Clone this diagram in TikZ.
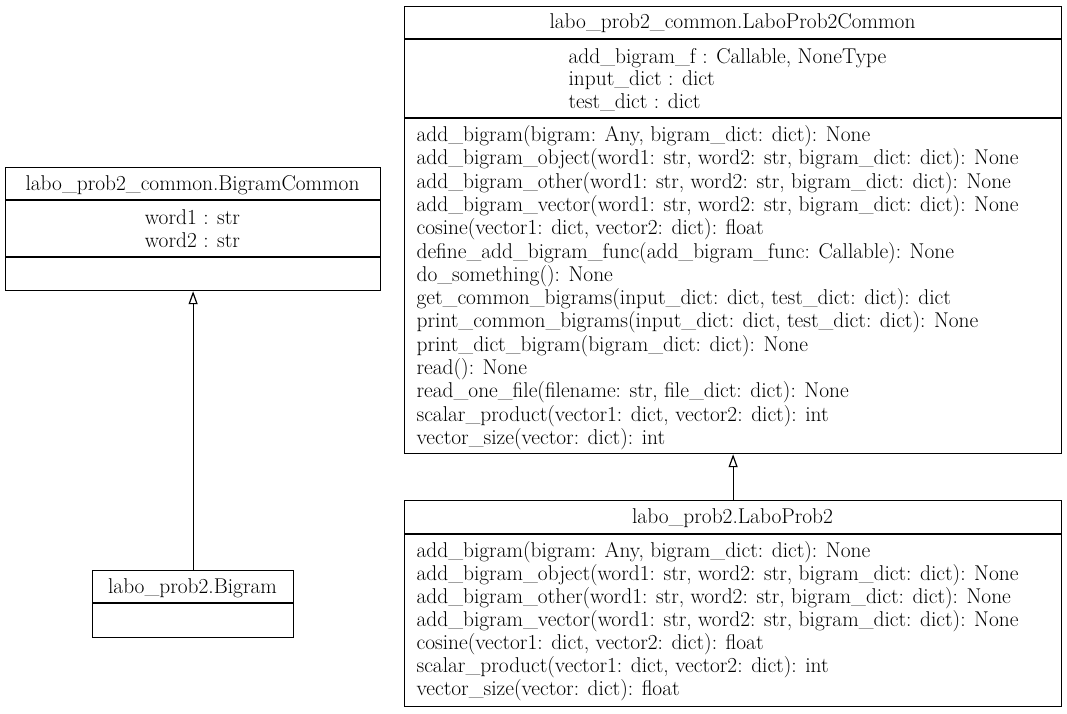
\documentclass[tikz,border=0pt]{standalone}
\usetikzlibrary{arrows.meta}
\newcommand\myfs{\fontsize{21.4}{24}\selectfont}
\begin{document}
\begin{tikzpicture}[x=1pt,y=-1pt, line width=1.2pt,
  box/.style={draw, rectangle, inner sep=0pt, anchor=north west},
  txt/.style={inner sep=0pt, font=\myfs, anchor=base west},
  ctxt/.style={inner sep=0pt, font=\myfs, anchor=base},
  inh/.style={-{Triangle[open,length=13pt,width=9pt]}}]
\useasboundingbox (0,0) rectangle (1067,713);

% BigramCommon
\node[box, minimum width=375pt, minimum height=123pt] (bc) at (5,167) {};
\draw (5,200) -- (380,200);
\draw (5,257) -- (380,257);
\node[ctxt] (bct) at (192.5,190.5) {labo\_prob2\_common.BigramCommon};
\node[ctxt] (bca1) at (192.5,224) {word1 : str};
\node[ctxt] (bca2) at (192.5,247) {word2 : str};

% Bigram
\node[box, minimum width=201pt, minimum height=67pt] (b) at (92,570) {};
\draw (92,603) -- (293,603);
\node[ctxt] (bt) at (192.5,593) {labo\_prob2.Bigram};

% LaboProb2Common
\node[box, minimum width=657pt, minimum height=447pt] (lpc) at (404,6) {};
\draw (404,39) -- (1061,39);
\draw (404,118) -- (1061,118);
\node[ctxt] (lpct) at (732.5,28.5) {labo\_prob2\_common.LaboProb2Common};
\node[txt] (lpca1) at (568,63) {add\_bigram\_f : Callable, NoneType};
\node[txt] (lpca2) at (568,85.5) {input\_dict : dict};
\node[txt] (lpca3) at (568,108) {test\_dict : dict};
\foreach \t [count=\i from 0] in {
  {add\_bigram(bigram: Any, bigram\_dict: dict): None},
  {add\_bigram\_object(word1: str, word2: str, bigram\_dict: dict): None},
  {add\_bigram\_other(word1: str, word2: str, bigram\_dict: dict): None},
  {add\_bigram\_vector(word1: str, word2: str, bigram\_dict: dict): None},
  {cosine(vector1: dict, vector2: dict): float},
  {define\_add\_bigram\_func(add\_bigram\_func: Callable): None},
  {do\_something(): None},
  {get\_common\_bigrams(input\_dict: dict, test\_dict: dict): dict},
  {print\_common\_bigrams(input\_dict: dict, test\_dict: dict): None},
  {print\_dict\_bigram(bigram\_dict: dict): None},
  {read(): None},
  {read\_one\_file(filename: str, file\_dict: dict): None},
  {scalar\_product(vector1: dict, vector2: dict): int},
  {vector\_size(vector: dict): int}}
  \node[txt] (lpcm\i) at (416,141.5+23.3*\i) {\t};

% LaboProb2
\node[box, minimum width=657pt, minimum height=206pt] (lp) at (404,500) {};
\draw (404,534) -- (1061,534);
\node[ctxt] (lpt) at (732.5,523) {labo\_prob2.LaboProb2};
\foreach \t [count=\i from 0] in {
  {add\_bigram(bigram: Any, bigram\_dict: dict): None},
  {add\_bigram\_object(word1: str, word2: str, bigram\_dict: dict): None},
  {add\_bigram\_other(word1: str, word2: str, bigram\_dict: dict): None},
  {add\_bigram\_vector(word1: str, word2: str, bigram\_dict: dict): None},
  {cosine(vector1: dict, vector2: dict): float},
  {scalar\_product(vector1: dict, vector2: dict): int},
  {vector\_size(vector: dict): float}}
  \node[txt] (lpm\i) at (416,557+23*\i) {\t};

% inheritance
\draw[inh] (b.north) -- (bc.south);
\draw[inh] (lp.north) -- (lpc.south);
\end{tikzpicture}
\end{document}
